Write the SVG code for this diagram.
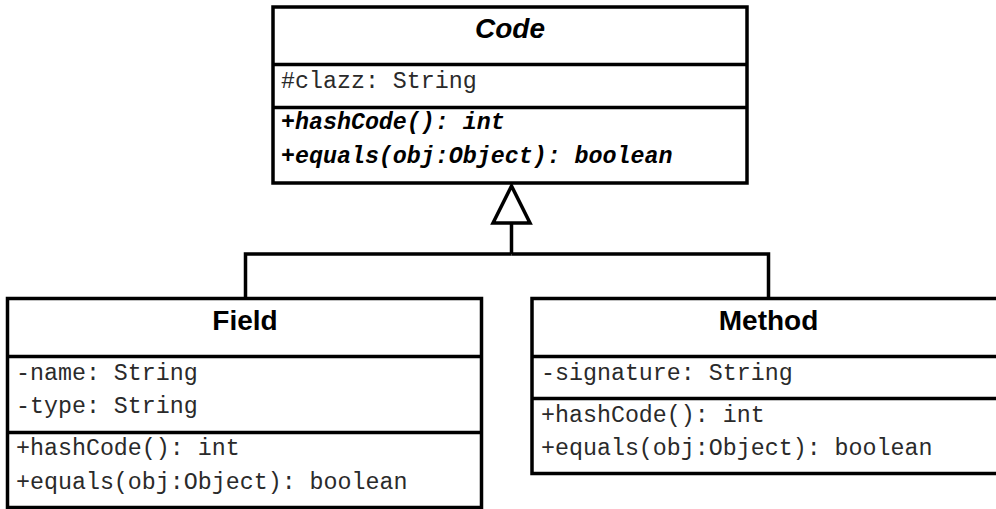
<svg xmlns="http://www.w3.org/2000/svg" width="996" height="509" viewBox="0 0 996 509">
<style>
.box{fill:#fff;stroke:#000;stroke-width:3.5}
.div{stroke:#000;stroke-width:3.5}
.title{font-family:"Liberation Sans",Arial,sans-serif;font-weight:bold;font-size:28px;text-anchor:middle;fill:#000}
.mem{font-family:"Liberation Mono","Courier New",monospace;font-size:23.3px;fill:#2a2a2a}
.abs{font-style:italic;font-weight:bold;fill:#000}
.conn{fill:none;stroke:#000;stroke-width:3.5}
</style>
<rect width="996" height="509" fill="#fff"/>
<g id="connectors">
<polyline class="conn" points="245.5,298 245.5,254 511.5,254"/>
<polyline class="conn" points="511.5,254 768.5,254 768.5,298"/>
<line class="conn" x1="511.5" y1="254" x2="511.5" y2="223"/>
<polygon class="conn" points="511.5,186 493,223 530,223" fill="#fff"/>
</g>
<g id="Code">
<rect class="box" x="273" y="7" width="474" height="176"/>
<line class="div" x1="273" y1="64.5" x2="747" y2="64.5"/>
<line class="div" x1="273" y1="107.5" x2="747" y2="107.5"/>
<text class="title" x="510" y="37.5" font-style="italic">Code</text>
<text class="mem" x="281" y="88">#clazz: String</text>
<text class="mem abs" x="281" y="129">+hashCode(): int</text>
<text class="mem abs" x="281" y="163">+equals(obj:Object): boolean</text>
</g>
<g id="Field">
<rect class="box" x="7.5" y="298.5" width="474" height="209"/>
<line class="div" x1="7.5" y1="356.5" x2="481.5" y2="356.5"/>
<line class="div" x1="7.5" y1="432.5" x2="481.5" y2="432.5"/>
<text class="title" x="245" y="330">Field</text>
<text class="mem" x="16" y="380">-name: String</text>
<text class="mem" x="16" y="413">-type: String</text>
<text class="mem" x="16" y="455">+hashCode(): int</text>
<text class="mem" x="16" y="489">+equals(obj:Object): boolean</text>
</g>
<g id="Method">
<rect class="box" x="532" y="298.5" width="474" height="175"/>
<line class="div" x1="532" y1="356.5" x2="1006" y2="356.5"/>
<line class="div" x1="532" y1="398.5" x2="1006" y2="398.5"/>
<text class="title" x="768.5" y="330">Method</text>
<text class="mem" x="541" y="380">-signature: String</text>
<text class="mem" x="541" y="422">+hashCode(): int</text>
<text class="mem" x="541" y="455">+equals(obj:Object): boolean</text>
</g>
</svg>
